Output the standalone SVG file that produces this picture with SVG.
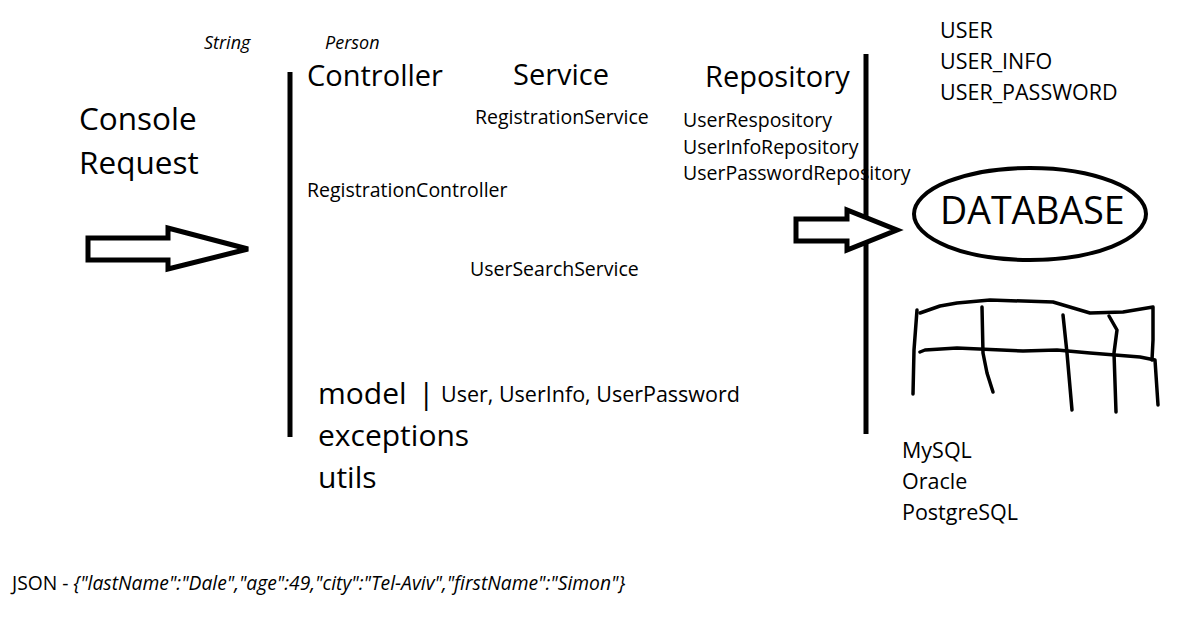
<svg xmlns="http://www.w3.org/2000/svg" width="1198" height="623" viewBox="0 0 1198 623">
<style>
text{font-family:"Open Sans","Noto Sans","Liberation Sans",sans-serif;fill:#000}
.it{font-style:italic;font-size:18px}
.h1{font-size:31.5px}
.pk{font-size:30px}
.h2{font-size:29px}
.sm{font-size:19.5px}
.md{font-size:21.5px}
.bar{stroke:#000;stroke-width:5;fill:none}
.arrow{fill:#fff;stroke:#000;stroke-width:5;stroke-linejoin:miter}
.hand{fill:none;stroke:#000;stroke-width:3.5;stroke-linecap:round;stroke-linejoin:round}
</style>
<rect width="1198" height="623" fill="#fff"/>
<g id="labels-top">
<text class="it" x="204" y="49">String</text>
<text class="it" x="325" y="49">Person</text>
</g>
<g id="console-request">
<text class="h1" x="79" y="130">Console</text>
<text class="h1" x="79" y="174">Request</text>
</g>
<g id="controller">
<text class="h2" x="307" y="86">Controller</text>
<text class="sm" x="307" y="197">RegistrationController</text>
</g>
<g id="service">
<text class="h2" x="513" y="85">Service</text>
<text class="sm" x="475" y="124">RegistrationService</text>
<text class="sm" x="470" y="276">UserSearchService</text>
</g>
<g id="repository">
<text class="h2" x="705" y="87">Repository</text>
<text class="sm" x="683" y="127">UserRespository</text>
<text class="sm" x="683" y="154">UserInfoRepository</text>
<text class="sm" x="683" y="180">UserPasswordRepository</text>
</g>
<g id="tables">
<text class="md" x="940" y="38">USER</text>
<text class="md" x="940" y="69">USER_INFO</text>
<text class="md" x="940" y="100">USER_PASSWORD</text>
</g>
<g id="database">
<ellipse cx="1030" cy="214" rx="116" ry="46" fill="#fff" stroke="#000" stroke-width="4"/>
<text x="940" y="224" style="font-size:37.5px">DATABASE</text>
</g>
<g id="table-sketch">
<path class="hand" d="M920,313 L940,306 L957,303 L990,300 L1053,302 L1090,313 L1123,312 L1153,307 L1153,340 L1152,360"/>
<path class="hand" d="M917,310 L914,350 L913,394"/>
<path class="hand" d="M920,352 L925,350 L957,348 L1023,351 L1057,350 L1090,353 L1140,357 L1155,360 L1158,405"/>
<path class="hand" d="M982,307 L983,353 L987,373 L993,392"/>
<path class="hand" d="M1063,315 L1067,353 L1072,410"/>
<path class="hand" d="M1109,316 L1117,330 L1114,353 L1116,412"/>
</g>
<g id="db-vendors">
<text class="md" x="902" y="458">MySQL</text>
<text class="md" x="902" y="489">Oracle</text>
<text class="md" x="902" y="520">PostgreSQL</text>
</g>
<g id="packages">
<text class="pk" x="318" y="404">model</text>
<text class="pk" x="418" y="404">|</text>
<text class="md" x="441" y="402">User, UserInfo, UserPassword</text>
<text class="pk" x="318" y="446">exceptions</text>
<text class="pk" x="318" y="488">utils</text>
</g>
<g id="json">
<text style="font-size:19.3px" x="12" y="590">JSON - <tspan font-style="italic">{"lastName":"Dale","age":49,"city":"Tel-Aviv","firstName":"Simon"}</tspan></text>
</g>
<g id="connectors">
<line class="bar" x1="290" y1="72" x2="290" y2="437"/>
<line class="bar" x1="866" y1="54" x2="866" y2="434"/>
<path class="arrow" d="M88,238 L168,238 L168,228 L248,249 L168,269 L168,260 L88,260 Z"/>
<path class="arrow" d="M796,219 L847,219 L847,210 L897,230 L847,250 L847,241 L796,241 Z"/>
</g>
</svg>
